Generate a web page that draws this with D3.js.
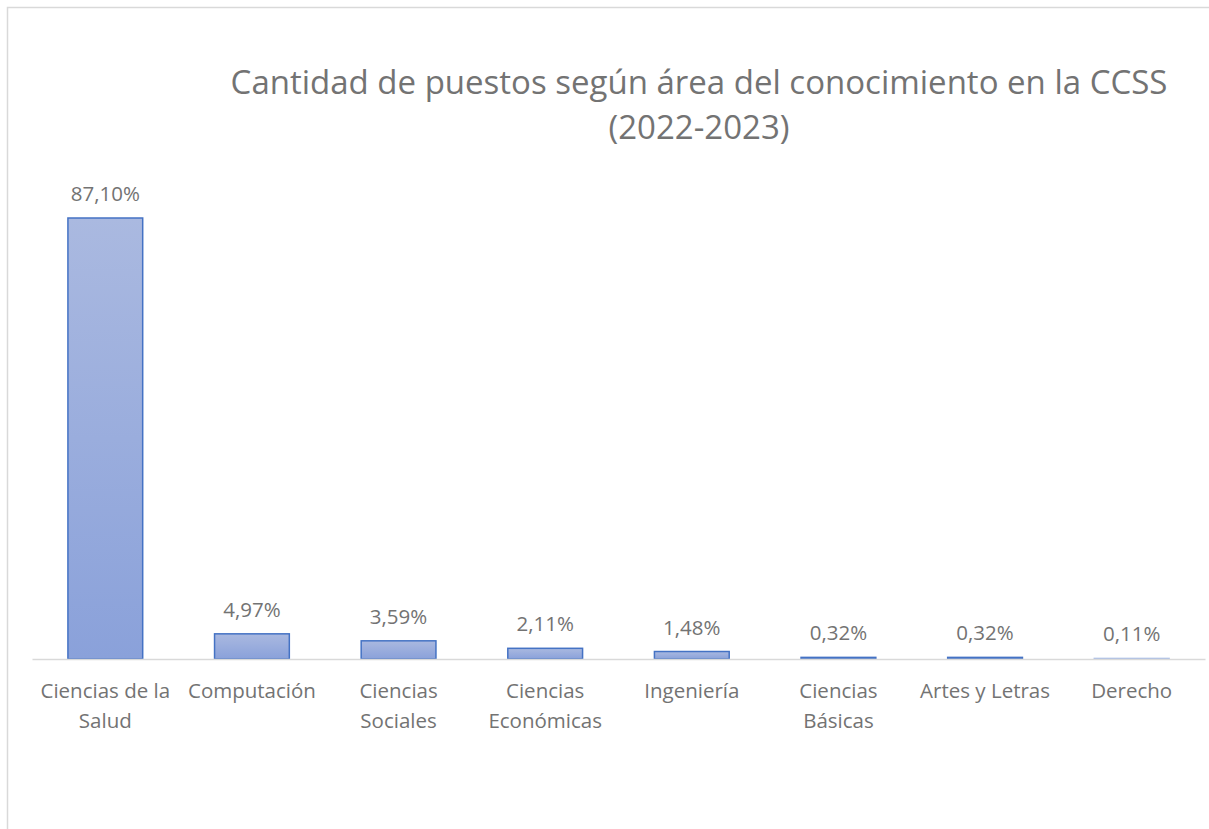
<!DOCTYPE html>
<html>
<head>
<meta charset="utf-8">
<script src="https://cdn.jsdelivr.net/npm/d3@7"></script>
<style>
  body { margin: 0; background: #fff; }
  text { font-family: "Open Sans", Lato, sans-serif; fill: #737373; }
</style>
</head>
<body>
<div id="chart"></div>
<script>
// data
var categories = ["Ciencias de la Salud", "Computación", "Ciencias Sociales", "Ciencias Económicas",
  "Ingeniería", "Ciencias Básicas", "Artes y Letras", "Derecho"];
var labelLines = [["Ciencias de la", "Salud"], ["Computación"], ["Ciencias", "Sociales"], ["Ciencias", "Económicas"],
  ["Ingeniería"], ["Ciencias", "Básicas"], ["Artes y Letras"], ["Derecho"]];
var values = [87.10, 4.97, 3.59, 2.11, 1.48, 0.32, 0.32, 0.11];
var titleLines = ["Cantidad de puestos según área del conocimiento en la CCSS", "(2022-2023)"];

var svgWidth = 1209;
var svgHeight = 829;
var margin = { top: 218, right: 4, bottom: 170, left: 32 };
var width = svgWidth - margin.left - margin.right;
var height = svgHeight - margin.top - margin.bottom;

var svg = d3.select("#chart").append("svg")
  .attr("width", svgWidth)
  .attr("height", svgHeight);

// chart frame (runs off the right and bottom edge)
svg.append("rect")
  .attr("x", 7.5).attr("y", 7.5)
  .attr("width", 1240).attr("height", 900)
  .attr("fill", "none")
  .attr("stroke", "#d9d9d9")
  .attr("stroke-width", 1.5);

var defs = svg.append("defs");
var grad = defs.append("linearGradient")
  .attr("id", "barGrad")
  .attr("x1", 0).attr("y1", 0).attr("x2", 0).attr("y2", 1);
grad.append("stop").attr("offset", "0%").attr("stop-color", "#aab9e0");
grad.append("stop").attr("offset", "100%").attr("stop-color", "#8aa1da");

var chartGroup = svg.append("g")
  .attr("transform", `translate(${margin.left}, ${margin.top})`);

var xScale = d3.scaleBand()
  .domain(categories)
  .range([0, width])
  .paddingInner(0.49)
  .paddingOuter(0.245);

var yScale = d3.scaleLinear()
  .domain([0, 87.10])
  .range([height, 0]);

// bars
chartGroup.selectAll(".bar")
  .data(values)
  .enter()
  .append("rect")
  .attr("class", "bar")
  .attr("x", (d, i) => xScale(categories[i]))
  .attr("y", d => yScale(d))
  .attr("width", xScale.bandwidth())
  .attr("height", d => height - yScale(d))
  .attr("fill", "url(#barGrad)")
  .attr("stroke", d => d < 0.2 ? "#a9bde6" : "#4472c4")
  .attr("stroke-width", 1.5);

// axis line
var xAxis = chartGroup.append("g")
  .attr("transform", `translate(0, ${height})`)
  .call(d3.axisBottom(xScale).tickSize(0).tickFormat(""));
xAxis.select(".domain").attr("stroke", "#d9d9d9").attr("stroke-width", 1.5);

// value labels
chartGroup.selectAll(".val")
  .data(values)
  .enter()
  .append("text")
  .attr("class", "val")
  .attr("x", (d, i) => xScale(categories[i]) + xScale.bandwidth() / 2)
  .attr("y", d => yScale(d) - 17)
  .attr("text-anchor", "middle")
  .style("font-size", "20.5px")
  .text(d => d.toFixed(2).replace(".", ",") + "%");

// category labels
var catGroup = chartGroup.selectAll(".cat")
  .data(labelLines)
  .enter()
  .append("text")
  .attr("class", "cat")
  .attr("text-anchor", "middle")
  .attr("transform", (d, i) => `translate(${xScale(categories[i]) + xScale.bandwidth() / 2}, ${height + 39})`)
  .style("font-size", "20.5px");
catGroup.selectAll("tspan")
  .data(d => d)
  .enter()
  .append("tspan")
  .attr("x", 0)
  .attr("y", (d, i) => i * 30)
  .text(d => d);

// title
svg.append("text")
  .attr("text-anchor", "middle")
  .attr("transform", "translate(699, 94)")
  .style("font-size", "33px")
  .selectAll("tspan")
  .data(titleLines)
  .enter()
  .append("tspan")
  .attr("x", 0)
  .attr("y", (d, i) => i * 45)
  .text(d => d);
</script>
</body>
</html>
